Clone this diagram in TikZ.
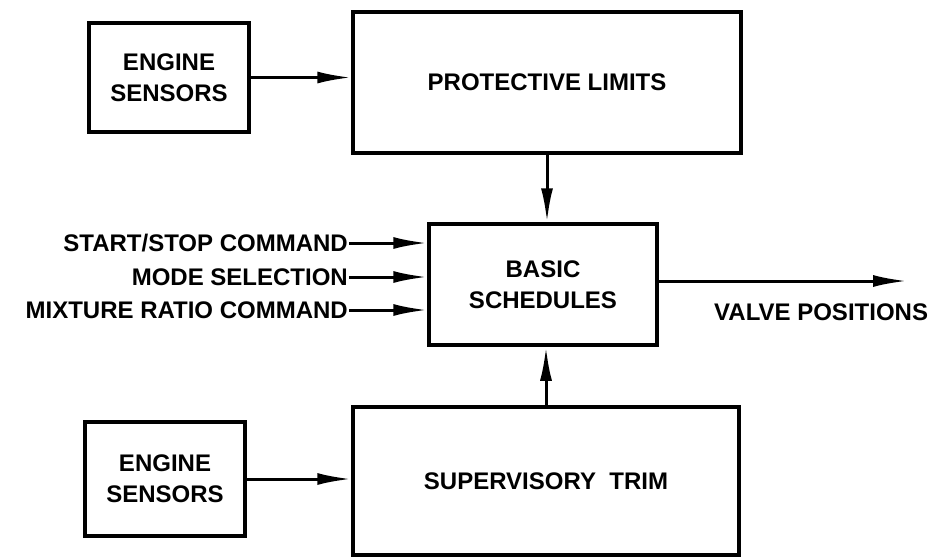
\documentclass[tikz,border=0pt]{standalone}
\usepackage{fontspec}
\setmainfont{Liberation Sans}
\usetikzlibrary{arrows.meta}
\begin{document}
\begin{tikzpicture}[x=1pt,y=-1pt,
  every node/.style={font=\fontsize{24}{31}\selectfont\bfseries},
  blk/.style={draw,line width=3.5pt,rectangle,inner sep=0pt,align=center},
  arr/.style={line width=3pt,-{Latex[length=34pt,width=12pt]}},
  lbl/.style={inner sep=1pt}]
\useasboundingbox (0,0) rectangle (935,558);
\node[blk,minimum width=160,minimum height=109] (es1) at (169,77.5) {ENGINE\\SENSORS};
\node[blk,minimum width=388,minimum height=141] (pl) at (547,82.5) {PROTECTIVE LIMITS};
\node[blk,minimum width=228,minimum height=121] (bs) at (543,284.5) {BASIC\\SCHEDULES};
\node[blk,minimum width=386,minimum height=148] (st) at (546,481) {SUPERVISORY\ \ TRIM};
\node[blk,minimum width=160,minimum height=114] (es2) at (165,479) {ENGINE\\SENSORS};
\node[lbl,anchor=east] (c1) at (349,243) {START/STOP COMMAND};
\node[lbl,anchor=east] (c2) at (349,277) {MODE SELECTION};
\node[lbl,anchor=east] (c3) at (349,310) {MIXTURE RATIO COMMAND};
\node[lbl,anchor=west] (vpl) at (713,312) {VALVE POSITIONS};
\coordinate (vp) at (907,281);
\draw[arr] (es1.east) -- (es1.east -| pl.west);
\draw[arr] (es2.east) -- (es2.east -| st.west);
\draw[arr] (pl.south) -- (pl.south |- bs.north);
\draw[arr] (st.north) -- (st.north |- bs.south);
\draw[arr] (c1.east) -- (c1.east -| bs.west);
\draw[arr] (c2.east) -- (c2.east -| bs.west);
\draw[arr] (c3.east) -- (c3.east -| bs.west);
\draw[arr] (bs.east |- vp) -- (vp);
\end{tikzpicture}
\end{document}
